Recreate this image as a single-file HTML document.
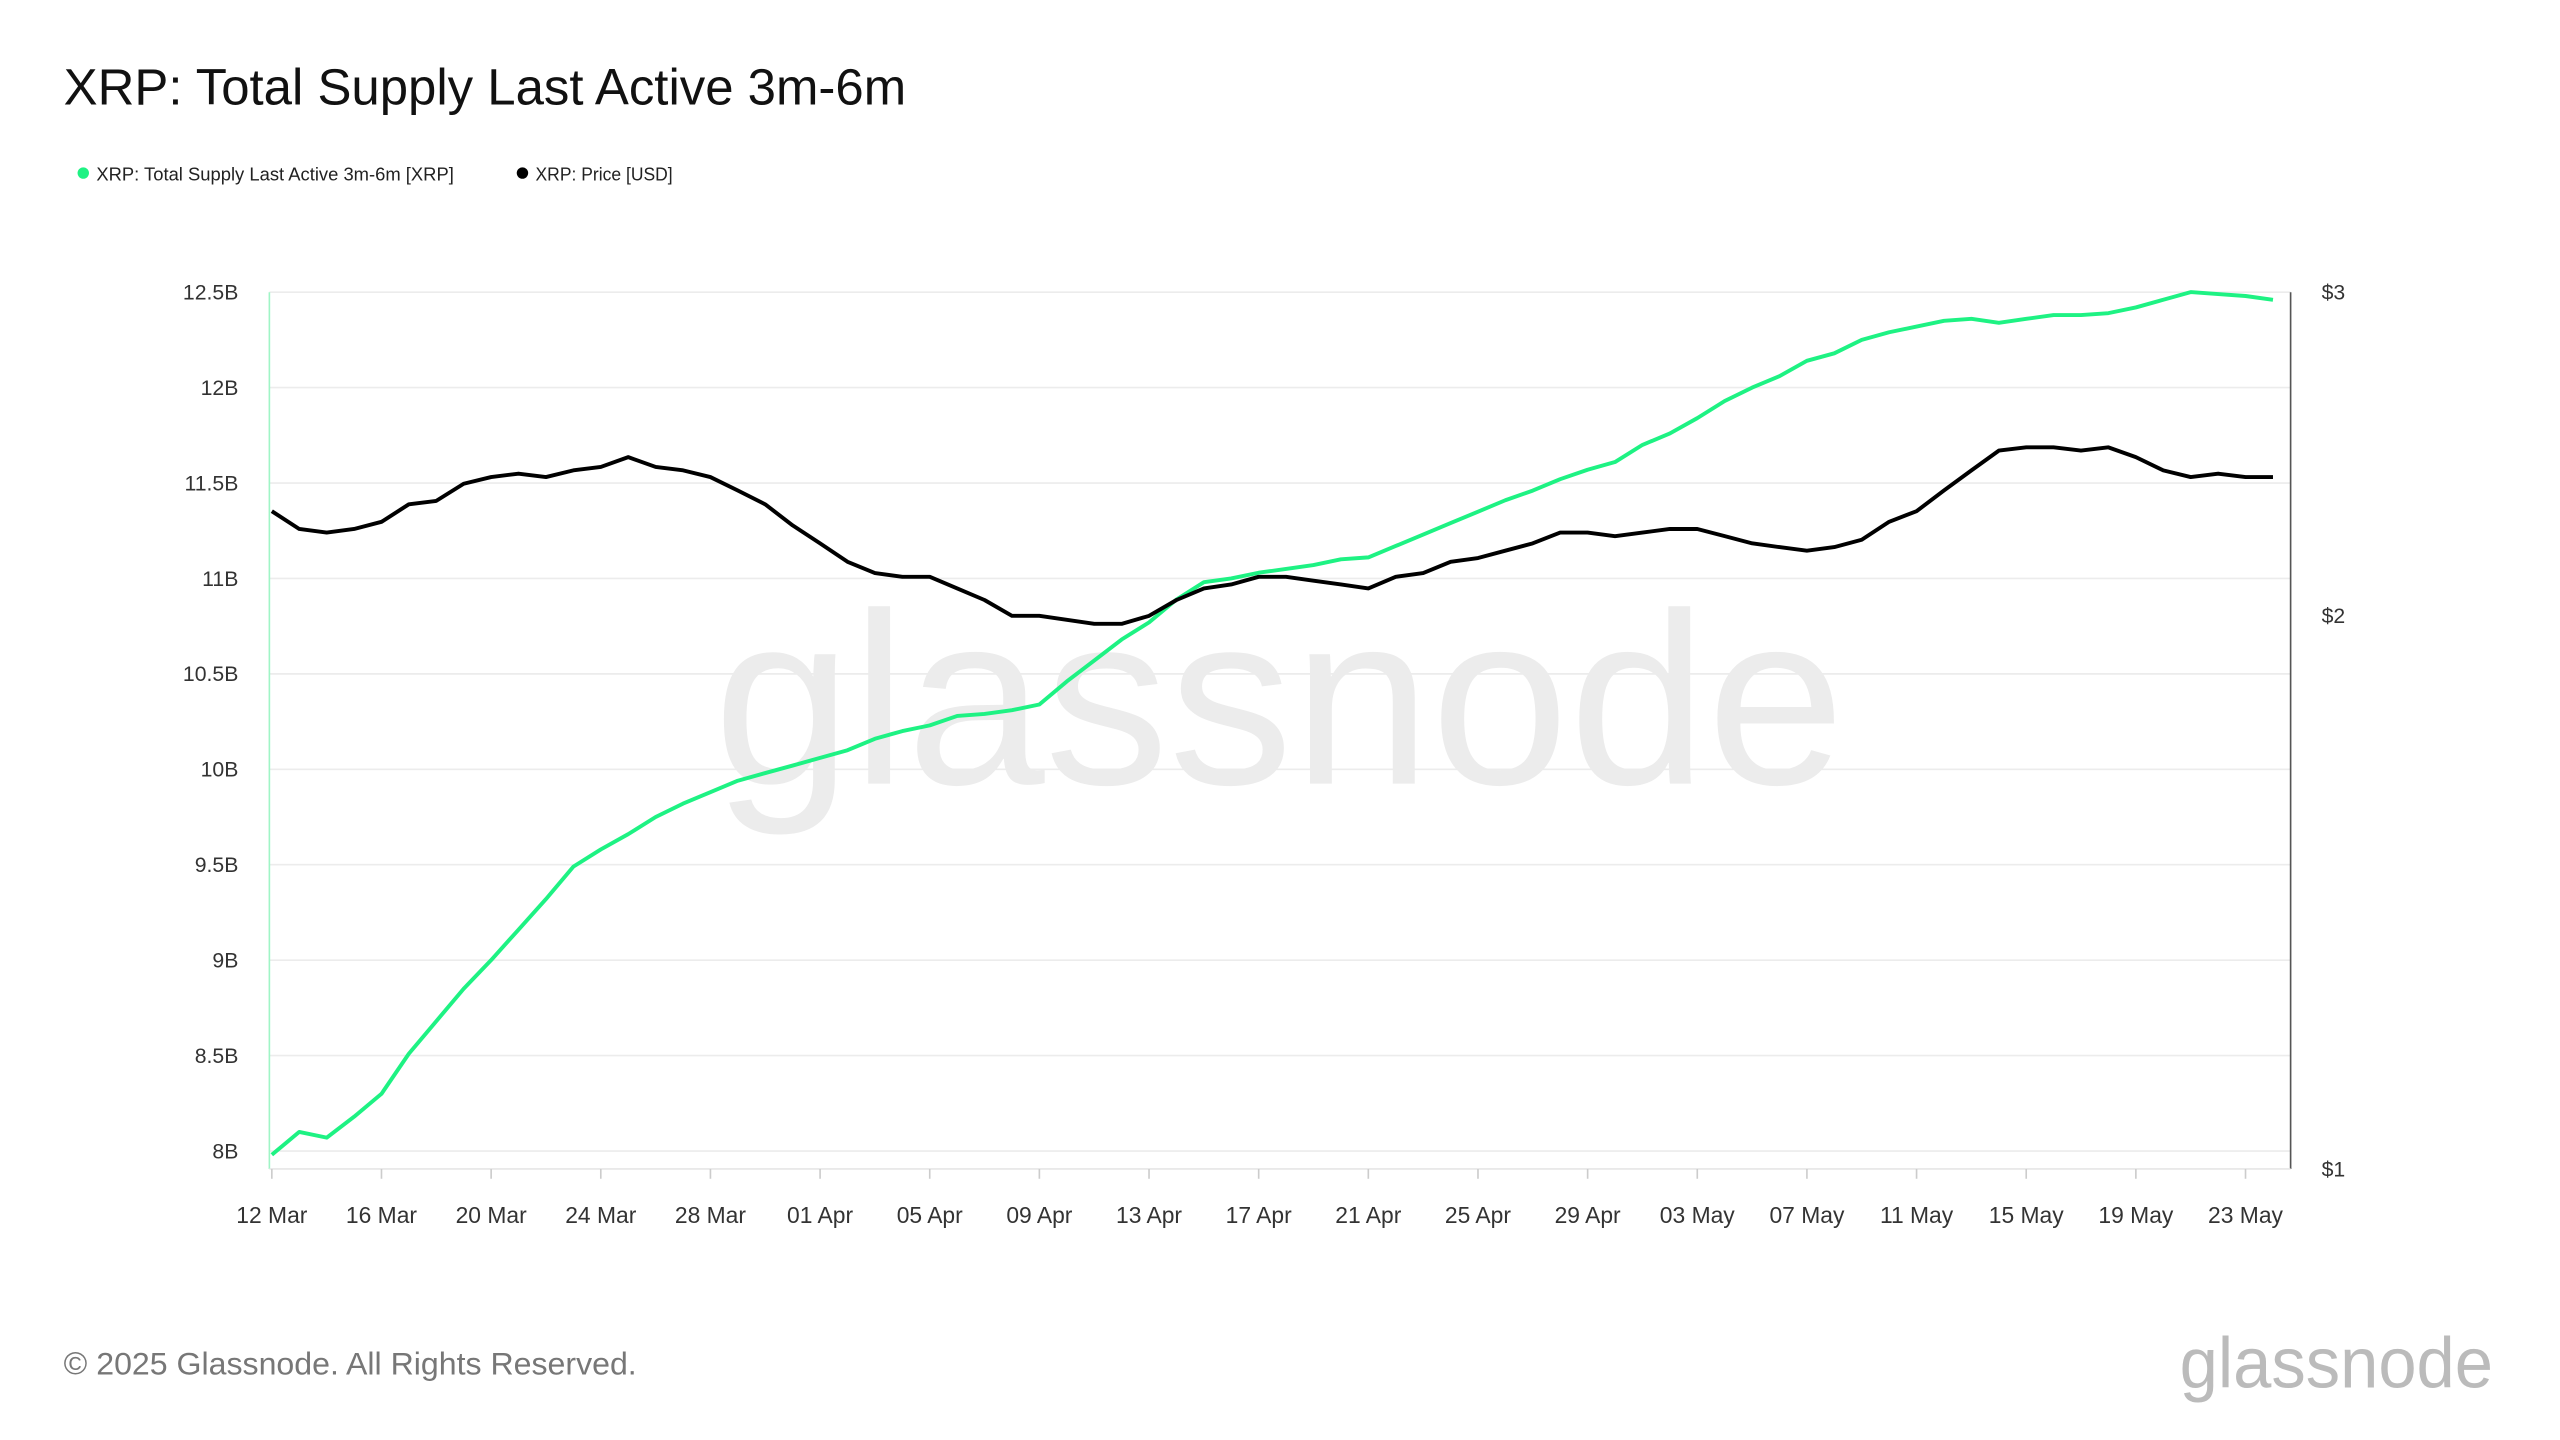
<!DOCTYPE html>
<html><head><meta charset="utf-8"><style>
html,body{margin:0;padding:0;background:#fff;}
svg{display:block;font-family:"Liberation Sans",Arial,sans-serif;}
</style></head><body>
<svg id="chart" width="2560" height="1440" viewBox="0 0 1568 882" xmlns="http://www.w3.org/2000/svg">
<rect width="1568" height="882" fill="#fff"/>
<text x="437" y="480" font-size="150" fill="#ececec" textLength="693" lengthAdjust="spacingAndGlyphs">glassnode</text>
<text x="39" y="64" font-size="31" fill="#111" textLength="516" lengthAdjust="spacingAndGlyphs">XRP: Total Supply Last Active 3m-6m</text>
<g>
<circle cx="51" cy="106" r="3.5" fill="#1ef283"/>
<text x="59" y="110.5" font-size="11.5" fill="#222" textLength="219" lengthAdjust="spacingAndGlyphs">XRP: Total Supply Last Active 3m-6m [XRP]</text>
<circle cx="320" cy="106" r="3.5" fill="#000"/>
<text x="328" y="110.5" font-size="11.5" fill="#222" textLength="84" lengthAdjust="spacingAndGlyphs">XRP: Price [USD]</text>
</g>
<g id="grid"></g>
<g id="axes"></g>
<g id="series"></g>
<text x="39" y="842" font-size="19.5" fill="#777" textLength="351" lengthAdjust="spacingAndGlyphs">© 2025 Glassnode. All Rights Reserved.</text>
<text x="1335" y="850" font-size="44" fill="#bbb" textLength="192" lengthAdjust="spacingAndGlyphs">glassnode</text>
</svg>
<script>
const supply=[7.98,8.10,8.07,8.18,8.30,8.51,8.68,8.85,9.00,9.16,9.32,9.49,9.58,9.66,9.75,9.82,9.88,9.94,9.98,10.02,10.06,10.10,10.16,10.20,10.23,10.28,10.29,10.31,10.34,10.46,10.57,10.68,10.77,10.89,10.98,11.00,11.03,11.05,11.07,11.10,11.11,11.17,11.23,11.29,11.35,11.41,11.46,11.52,11.57,11.61,11.70,11.76,11.84,11.93,12.00,12.06,12.14,12.18,12.25,12.29,12.32,12.35,12.36,12.34,12.36,12.38,12.38,12.39,12.42,12.46,12.50,12.49,12.48,12.46];
const price=[2.28,2.23,2.22,2.23,2.25,2.30,2.31,2.36,2.38,2.39,2.38,2.40,2.41,2.44,2.41,2.40,2.38,2.34,2.30,2.24,2.19,2.14,2.11,2.10,2.10,2.07,2.04,2.00,2.00,1.99,1.98,1.98,2.00,2.04,2.07,2.08,2.10,2.10,2.09,2.08,2.07,2.10,2.11,2.14,2.15,2.17,2.19,2.22,2.22,2.21,2.22,2.23,2.23,2.21,2.19,2.18,2.17,2.18,2.20,2.25,2.28,2.34,2.40,2.46,2.47,2.47,2.46,2.47,2.44,2.40,2.38,2.39,2.38,2.38];
const leftTicks=[8,8.5,9,9.5,10,10.5,11,11.5,12,12.5];
const leftTickLabels=["8B","8.5B","9B","9.5B","10B","10.5B","11B","11.5B","12B","12.5B"];
const rightTicks=[1,2,3];
const rightTickLabels=["$1","$2","$3"];
const xTickLabels=["12 Mar","16 Mar","20 Mar","24 Mar","28 Mar","01 Apr","05 Apr","09 Apr","13 Apr","17 Apr","21 Apr","25 Apr","29 Apr","03 May","07 May","11 May","15 May","19 May","23 May"];
const NS="http://www.w3.org/2000/svg";
const X0=165,X1=1403,TOP=179,BOT=716;
const xDay=d=>X0+1.5+d*16.79;
const yL=v=>705-(v-8)*116.9;
const yR=p=>TOP+(Math.log(3)-Math.log(p))*488.8;
function mk(tag,attrs,parent){const e=document.createElementNS(NS,tag);for(const k in attrs)e.setAttribute(k,attrs[k]);parent.appendChild(e);return e;}
const grid=document.getElementById('grid'),axes=document.getElementById('axes'),series=document.getElementById('series');
leftTicks.forEach((v,i)=>{
 const y=yL(v);
 const g=mk('line',{x1:X0,x2:X1,y1:y,y2:y,stroke:'#ececec','stroke-width':1},grid);
 
 
 const t=mk('text',{x:146,y:y+4.5,'font-size':13,fill:'#333','text-anchor':'end'},axes);
 t.textContent=leftTickLabels[i];
 
 
});
rightTicks.forEach((p,i)=>{
 const t=mk('text',{x:1422,y:yR(p)+4.5,'font-size':13,fill:'#333'},axes);
 t.textContent=rightTickLabels[i];
 
 
});
const la=mk('line',{x1:X0,x2:X0,y1:TOP,y2:BOT,stroke:'#9ff5c6','stroke-width':1},axes);


const ra=mk('line',{x1:X1,x2:X1,y1:TOP,y2:BOT,stroke:'#555','stroke-width':1},axes);


const ba=mk('line',{x1:X0,x2:X1,y1:BOT,y2:BOT,stroke:'#e6e6e6','stroke-width':1},axes);


xTickLabels.forEach((l,i)=>{
 const x=xDay(i*4);
 const tk=mk('line',{x1:x,x2:x,y1:BOT,y2:BOT+6,stroke:'#ccc'},axes);
 
 
 const t=mk('text',{x:x,y:749,'font-size':14,fill:'#333','text-anchor':'middle'},axes);
 t.textContent=l;
 
 
});
const sp=mk('path',{d:supply.map((v,i)=>(i?'L':'M')+xDay(i).toFixed(1)+','+yL(v).toFixed(1)).join(''),fill:'none',stroke:'#1ef283','stroke-width':2.4,'stroke-linejoin':'round'},series);


const pp=mk('path',{d:price.map((v,i)=>(i?'L':'M')+xDay(i).toFixed(1)+','+yR(v).toFixed(1)).join(''),fill:'none',stroke:'#000','stroke-width':2.4,'stroke-linejoin':'round'},series);


</script>
</body></html>
